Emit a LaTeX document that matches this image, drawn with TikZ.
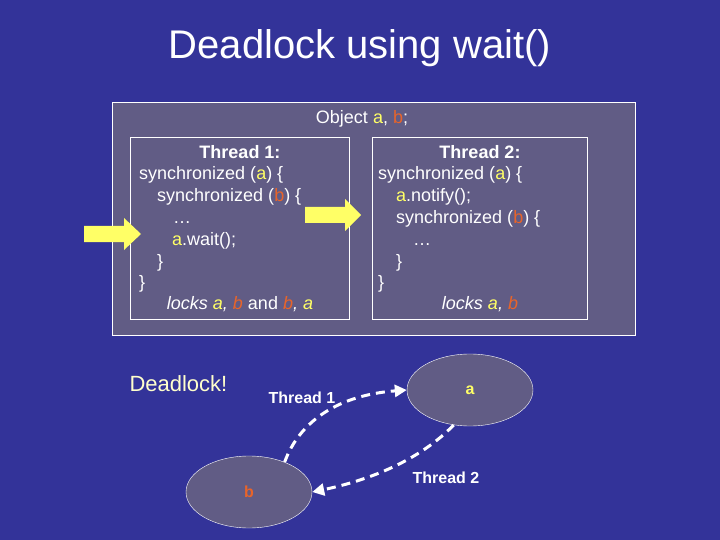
\documentclass[tikz,border=0pt]{standalone}
\usepackage{fontspec}
\setmainfont{Liberation Sans}
\usetikzlibrary{shapes.geometric,arrows.meta}
\definecolor{bg}{HTML}{333399}
\definecolor{boxc}{HTML}{615C85}
\definecolor{ya}{HTML}{FFFF66}
\definecolor{ob}{HTML}{E8642A}
\definecolor{dl}{HTML}{FFFFCC}
\newcommand{\va}{\textcolor{ya}{a}}
\newcommand{\vb}{\textcolor{ob}{b}}
\tikzset{
  panel/.style={draw=white, fill=boxc, line width=0.8pt},
  code/.style={anchor=base west, text=white, font=\fontsize{18}{20}\selectfont, inner sep=0pt},
  ctr/.style={anchor=base, text=white, font=\fontsize{18}{20}\selectfont, inner sep=0pt},
  lockell/.style={ellipse, draw=white, fill=boxc, minimum width=126pt, minimum height=72pt, font=\bfseries\fontsize{16}{18}\selectfont},
  lab/.style={text=white, font=\bfseries\fontsize{16}{18}\selectfont, inner sep=0pt},
  fatarrow/.style={fill=ya, draw=none},
  wait/.style={draw=white, line width=3pt, dash pattern=on 9pt off 6pt, -{Triangle[length=12pt,width=12pt]}}
}
\begin{document}
\begin{tikzpicture}[x=1pt,y=-1pt]
\fill[bg] (0,0) rectangle (720,540);
\useasboundingbox (0,0) rectangle (720,540);
\node[text=white, font=\fontsize{40}{44}\selectfont] (title) at (360,48) {Deadlock using wait()};
\draw[panel] (112,102) rectangle (635,335);
\node[ctr] (obj) at (362,124) {Object \va, \vb;};
\draw[panel] (130,137) rectangle (349,319);
\draw[panel] (372,137) rectangle (587,319);
% Thread 1
\node[ctr, font=\bfseries\fontsize{18}{20}\selectfont] (t1h) at (240,159) {Thread 1:};
\node[code] (t1a) at (139,180) {synchronized (\va) \{};
\node[code] (t1b) at (157,202) {synchronized (\vb) \{};
\node[code] (t1c) at (173,223) {\ldots};
\node[code] (t1d) at (172,245) {\va.wait();};
\node[code] (t1e) at (157,267) {\}};
\node[code] (t1f) at (139,288) {\}};
\node[ctr] (t1l) at (240,309) {\itshape locks \va, \vb\ \upshape and \itshape \vb, \va};
% Thread 2
\node[ctr, font=\bfseries\fontsize{18}{20}\selectfont] (t2h) at (480,159) {Thread 2:};
\node[code] (t2a) at (378,180) {synchronized (\va) \{};
\node[code] (t2b) at (396,202) {\va.notify();};
\node[code] (t2c) at (396,223) {synchronized (\vb) \{};
\node[code] (t2d) at (413,245) {\ldots};
\node[code] (t2e) at (396,267) {\}};
\node[code] (t2f) at (378,288) {\}};
\node[ctr] (t2l) at (480,309) {\itshape locks \va, \vb};
% fat arrows
\fill[fatarrow] (84,226) -- (124,226) -- (124,218) -- (141,234) -- (124,250) -- (124,242) -- (84,242) -- cycle;
\fill[fatarrow] (305,207) -- (345,207) -- (345,199) -- (361,215) -- (345,231) -- (345,223) -- (305,223) -- cycle;
% bottom
\node[text=dl, font=\fontsize{22}{24}\selectfont, anchor=west] (dead) at (126,384) {Deadlock!};
\node[lockell, text=ya] (a) at (470,390) {a};
\node[lockell, text=ob] (b) at (249,492) {b};
\node[lab] (l1) at (302,398) {Thread 1};
\node[lab] (l2) at (446,478) {Thread 2};
\draw[wait] (b.40) .. controls (300,420) and (340,395) .. (a.west);
\draw[wait] (a.-115) .. controls (420,460) and (370,480) .. (b.east);
\end{tikzpicture}
\end{document}
